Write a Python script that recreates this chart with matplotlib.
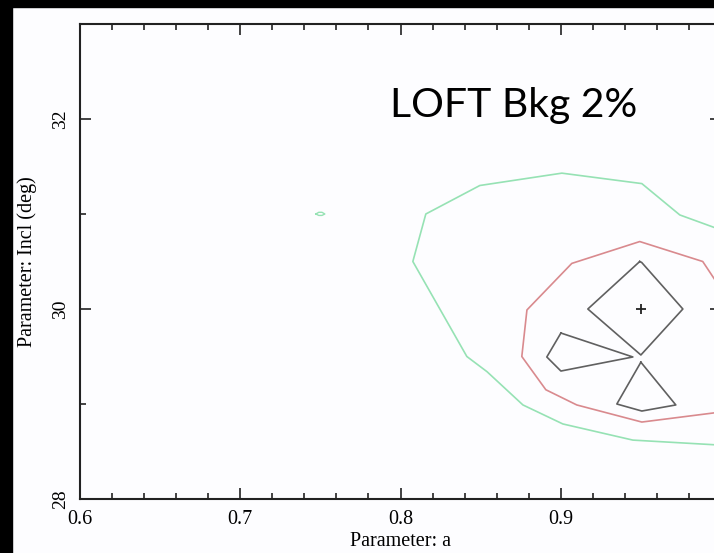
import matplotlib
matplotlib.use("Agg")
import matplotlib.pyplot as plt
from matplotlib.patches import Rectangle
from matplotlib.ticker import MultipleLocator

# contour levels (data coordinates: a, Incl)
green_a = [1.002, 0.9743, 0.9506, 0.9007, 0.8495, 0.8158, 0.8077, 0.8414, 0.854, 0.8764, 0.9013, 0.945, 1.002]
green_i = [30.82, 30.99, 31.32, 31.43, 31.30, 31.00, 30.50, 29.50, 29.34, 28.99, 28.79, 28.62, 28.565]

green_loop_a = [0.7472, 0.7490, 0.7510, 0.7528, 0.7510, 0.7490, 0.7472]
green_loop_i = [31.00, 31.018, 31.018, 31.00, 30.985, 30.985, 31.00]

red_a = [1.002, 0.9886, 0.9493, 0.9069, 0.8789, 0.8757, 0.8907, 0.910, 0.9506, 1.002]
red_i = [30.16, 30.50, 30.71, 30.48, 29.99, 29.50, 29.15, 28.99, 28.81, 28.92]

diamond_a = [0.9493, 0.9169, 0.950, 0.9762, 0.9505, 0.9493]
diamond_i = [30.50, 30.00, 29.516, 30.00, 30.49, 30.50]

tri_left_a = [0.9001, 0.8913, 0.9001, 0.945, 0.9001]
tri_left_i = [29.747, 29.495, 29.347, 29.495, 29.747]

tri_bottom_a = [0.950, 0.935, 0.9506, 0.9718, 0.950]
tri_bottom_i = [29.44, 29.00, 28.926, 28.99, 29.44]

best_a = [0.95]
best_i = [30.0]

xtick_vals = [0.6, 0.7, 0.8, 0.9, 1.0]
xtick_labels = ['0.6', '0.7', '0.8', '0.9', '']

W, H = 714, 553
fig = plt.figure(figsize=(W / 100, H / 100), dpi=100)
fig.patch.set_facecolor('#fdfdff')
ax = fig.add_axes([80 / W, (H - 499) / H, 641 / W, 475 / H])
ax.set_facecolor('#fdfdff')

ax.plot(green_a, green_i, color='#96e2b4', lw=1.2)
ax.plot(green_loop_a, green_loop_i, color='#96e2b4', lw=1.0)
ax.plot(red_a, red_i, color='#d98a8e', lw=1.2)
for xs, ys in [(diamond_a, diamond_i), (tri_left_a, tri_left_i), (tri_bottom_a, tri_bottom_i)]:
    ax.plot(xs, ys, color='#606060', lw=1.2)
ax.plot(best_a, best_i, marker='+', color='#222222', ms=7, mew=1.3, ls='none')

ax.set_xlim(0.6, 1.0)
ax.set_ylim(28, 33)
ax.set_xticks(xtick_vals)
ax.set_xticklabels(xtick_labels)
ax.xaxis.set_minor_locator(MultipleLocator(0.02))
ax.yaxis.set_major_locator(MultipleLocator(2))
ax.yaxis.set_minor_locator(MultipleLocator(1))

serif = 'Liberation Serif'
ax.tick_params(which='both', direction='in', top=True, right=True, width=1.2, color='#222222')
ax.tick_params(which='major', length=8)
ax.tick_params(which='minor', length=4.5)
ax.tick_params(axis='x', pad=8, labelsize=14.5)
ax.tick_params(axis='y', pad=8, labelsize=14)
for lab in ax.get_xticklabels() + ax.get_yticklabels():
    lab.set_fontfamily(serif)
for lab in ax.get_yticklabels():
    lab.set_rotation(90)
    lab.set_va('center')
for s in ax.spines.values():
    s.set_linewidth(1.5)
    s.set_color('#222222')

ax.set_xlabel('Parameter: a', fontfamily=serif, fontsize=14.5, labelpad=2)
ax.set_ylabel('Parameter: Incl (deg)', fontfamily=serif, fontsize=14.5, labelpad=11)

fig.text(390 / W, (H - 117) / H, 'LOFT Bkg 2%', fontfamily='Lato', fontsize=29.5,
         ha='left', va='baseline', color='black')

# black frame strips of the screenshot
fig.patches.append(Rectangle((0, 1 - 7 / H), 1, 7 / H, transform=fig.transFigure,
                             color='black', zorder=10))
fig.patches.append(Rectangle((0, 0), 12 / W, 1, transform=fig.transFigure,
                             color='black', zorder=10))

fig.savefig('out.png', dpi=100, facecolor=fig.get_facecolor())
